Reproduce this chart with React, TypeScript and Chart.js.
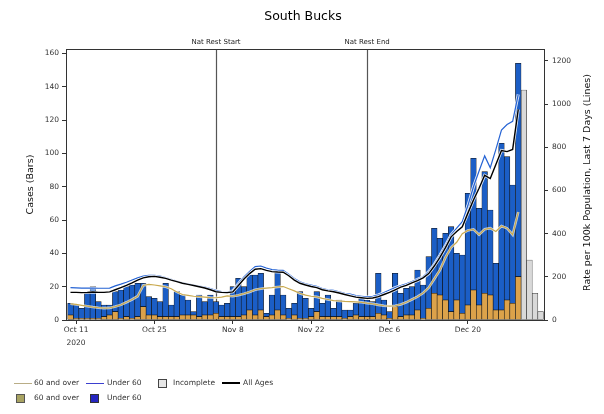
import React, { useEffect, useRef } from 'react';
import { Chart, registerables } from 'chart.js';

Chart.register(...registerables);

// ---- data (day 0 = 10 Oct 2020) ----
const chartTitle = 'South Bucks';
const tickDays = [1, 15, 29, 43, 57, 71];
const tickLabels = ['Oct 11', 'Oct 25', 'Nov 8', 'Nov 22', 'Dec 6', 'Dec 20'];
const tickYear = '2020';
const markerDays = [26, 53];
const markerLabels = ['Nat Rest Start', 'Nat Rest End'];

const over60Cases = [
  3, 1, 1, 1, 1, 1, 2, 3, 5, 1,
  2, 1, 2, 8, 3, 3, 2, 2, 2, 2,
  3, 3, 3, 2, 3, 3, 4, 2, 2, 2,
  2, 3, 6, 3, 6, 2, 3, 6, 3, 1,
  3, 1, 1, 2, 5, 2, 2, 2, 2, 1,
  2, 3, 2, 2, 2, 4, 3, 1, 8, 2,
  3, 3, 6, 1, 7, 16, 15, 12, 5, 12,
  4, 9, 18, 9, 16, 15, 6, 6, 12, 10,
  26,
];
const under60Cases = [
  7, 8, 6, 15, 19, 10, 7, 6, 12, 17,
  18, 20, 20, 14, 11, 10, 9, 20, 7, 15,
  12, 9, 2, 13, 8, 12, 7, 7, 8, 18,
  23, 17, 21, 24, 22, 2, 12, 24, 12, 6,
  7, 16, 12, 5, 12, 8, 13, 5, 10, 5,
  4, 7, 11, 10, 9, 24, 9, 4, 20, 14,
  16, 17, 24, 20, 31, 39, 34, 40, 51, 28,
  35, 67, 79, 58, 73, 51, 28, 100, 86, 71,
  128,
];
const incompleteDays = [81, 82, 83, 84];
const incompleteCases = [138, 36, 16, 5];

const allAgesRate = [
  128, 128, 127, 128, 130, 128, 128, 130, 140, 150,
  160, 172, 185, 195, 200, 202, 198, 193, 185, 178,
  170, 165, 160, 154, 148, 140, 131, 128, 127, 130,
  160, 190, 215, 235, 238, 230, 224, 222, 221, 205,
  185, 170, 162, 155, 150, 140, 135, 131, 125, 118,
  112, 106, 103, 100, 102, 108, 118, 128, 140, 152,
  160, 172, 182, 195, 215, 250, 290, 335, 385, 410,
  432, 495, 556, 610, 670, 655, 720, 785, 780, 790,
  975,
];
const under60Rate = [
  150, 149, 148, 148, 148, 147, 147, 148, 158, 166,
  175, 185, 195, 203, 207, 207, 203, 196, 188, 180,
  172, 167, 162, 157, 152, 145, 137, 132, 130, 135,
  168, 200, 225, 247, 250, 240, 233, 231, 230, 212,
  192, 177, 168, 162, 156, 146, 140, 137, 130, 124,
  120, 113, 110, 107, 110, 116, 127, 139, 150, 160,
  168, 178, 188, 200, 224, 258, 300, 345, 394, 425,
  455, 530, 617, 690, 760, 705, 790, 880, 905, 920,
  1045,
];
const over60Rate = [
  75, 72, 68, 64, 60, 57, 55, 56, 62, 70,
  82, 95, 110, 160, 165, 162, 158, 154, 145, 130,
  118, 114, 110, 108, 106, 104, 103, 106, 112, 110,
  115, 122, 130, 140, 145, 148, 150, 153, 155, 145,
  135, 123, 115, 110, 107, 100, 95, 90, 88, 86,
  85, 84, 82, 78, 75, 70, 66, 64, 66, 72,
  82, 95, 108, 125, 150, 190, 231, 290, 335, 360,
  400, 415, 420, 395, 420, 425, 410, 435, 425, 395,
  500,
];

const FONT = 'DejaVu Sans';
const C_OVER = '#dca24a';
const C_UNDER = '#1b5ec6';
const C_OVER_LINE = '#c9a94e';
const C_UNDER_LINE = '#2563d4';

const pts = (arr: number[], days?: number[]) =>
  arr.map((v, i) => ({ x: days ? days[i] : i, y: v }));

const overlay = {
  id: 'overlay',
  beforeDatasetsDraw(chart: any) {
    const { ctx, chartArea: a, scales } = chart;
    ctx.save();
    ctx.strokeStyle = '#555';
    ctx.lineWidth = 1.2;
    markerDays.forEach((d) => {
      const x = Math.round(scales.x.getPixelForValue(d)) + 0.5;
      ctx.beginPath();
      ctx.moveTo(x, a.top);
      ctx.lineTo(x, a.bottom);
      ctx.stroke();
    });
    ctx.restore();
  },
  afterDraw(chart: any) {
    const { ctx, chartArea: a, scales } = chart;
    ctx.save();
    ctx.strokeStyle = '#333';
    ctx.lineWidth = 1;
    ctx.beginPath();
    ctx.moveTo(a.left, a.top + 0.5);
    ctx.lineTo(a.right, a.top + 0.5);
    ctx.stroke();

    ctx.fillStyle = '#000';
    ctx.textAlign = 'center';
    ctx.textBaseline = 'middle';
    ctx.font = `12.5px "${FONT}"`;
    ctx.fillText(chartTitle, 303, 17);

    ctx.fillStyle = '#222';
    ctx.font = `7px "${FONT}"`;
    markerDays.forEach((d, i) => {
      const x = scales.x.getPixelForValue(d);
      ctx.fillText(markerLabels[i], x, a.top - 7);
    });

    const cy = (a.top + a.bottom) / 2;
    ctx.font = `9.5px "${FONT}"`;
    ctx.fillStyle = '#111';
    ctx.save();
    ctx.translate(31, cy);
    ctx.rotate(-Math.PI / 2);
    ctx.fillText('Cases (Bars)', 0, 0);
    ctx.restore();
    ctx.save();
    ctx.translate(588, cy - 2);
    ctx.rotate(-Math.PI / 2);
    ctx.fillText('Rate per 100k Population, Last 7 Days (Lines)', 0, 0);
    ctx.restore();
    ctx.restore();
  },
};

export default function App() {
  const ref = useRef<HTMLCanvasElement>(null);

  useEffect(() => {
    if (!ref.current) return;
    const lineBase = {
      type: 'line' as const,
      yAxisID: 'y1',
      pointRadius: 0,
      tension: 0,
      fill: false,
    };
    const barBase = {
      type: 'bar' as const,
      yAxisID: 'y',
      borderColor: '#111',
      borderWidth: 0.6,
      borderSkipped: false,
      barPercentage: 1,
      categoryPercentage: 1,
    };
    const chart = new Chart(ref.current, {
      type: 'bar',
      data: {
        datasets: [
          { ...lineBase, label: 'All Ages', data: pts(allAgesRate), borderColor: '#000', borderWidth: 1.4 },
          { ...lineBase, label: 'halo1', data: pts(allAgesRate), borderColor: 'rgba(255,255,255,0.85)', borderWidth: 3 },
          { ...lineBase, label: 'Under 60 line', data: pts(under60Rate), borderColor: C_UNDER_LINE, borderWidth: 1.2 },
          { ...lineBase, label: 'halo2', data: pts(under60Rate), borderColor: 'rgba(255,255,255,0.85)', borderWidth: 3 },
          { ...lineBase, label: '60 and over line', data: pts(over60Rate), borderColor: C_OVER_LINE, borderWidth: 1.2 },
          { ...lineBase, label: 'halo3', data: pts(over60Rate), borderColor: 'rgba(255,255,255,0.7)', borderWidth: 2.6 },
          { ...barBase, label: '60 and over', data: pts(over60Cases), backgroundColor: C_OVER, stack: 's' },
          { ...barBase, label: 'Under 60', data: pts(under60Cases), backgroundColor: C_UNDER, stack: 's' },
          { ...barBase, label: 'Incomplete', data: pts(incompleteCases, incompleteDays), backgroundColor: '#d9d9d9', borderColor: '#333', stack: 's' },
        ] as any,
      },
      options: {
        responsive: false,
        animation: false,
        devicePixelRatio: 1,
        layout: { padding: { top: 49, left: 0, right: 0, bottom: 0 } },
        font: { family: FONT } as any,
        plugins: {
          legend: { display: false },
          tooltip: { enabled: false },
          title: { display: false },
        },
        scales: {
          x: {
            type: 'linear',
            min: -0.8,
            max: 84.6,
            offset: false,
            stacked: true,
            afterBuildTicks: (scale: any) => {
              scale.ticks = tickDays.map((v) => ({ value: v }));
            },
            afterFit: (scale: any) => {
              scale.height = 94;
            },
            grid: { display: true, drawOnChartArea: false, drawTicks: true, tickLength: 4, color: '#333', offset: false },
            border: { display: true, color: '#333', width: 1 },
            ticks: {
              autoSkip: false,
              maxRotation: 0,
              padding: 0,
              color: '#333',
              font: { family: FONT, size: 7.5, lineHeight: 1.7 },
              callback: (v: any) => {
                const i = tickDays.indexOf(Number(v));
                if (i < 0) return '';
                return i === 0 ? [tickLabels[i], tickYear] : tickLabels[i];
              },
            },
          },
          y: {
            type: 'linear',
            position: 'left',
            stacked: true,
            min: 0,
            max: 162.6,
            afterFit: (scale: any) => {
              scale.width = 66;
            },
            grid: { display: true, drawOnChartArea: false, drawTicks: true, tickLength: 4, color: '#333' },
            border: { display: true, color: '#333', width: 1 },
            ticks: {
              stepSize: 20,
              includeBounds: false,
              padding: 3,
              color: '#333',
              font: { family: FONT, size: 7.5 },
              callback: (v: any) => String(v),
            },
          },
          y1: {
            type: 'linear',
            position: 'right',
            stacked: false,
            min: 0,
            max: 1255,
            afterFit: (scale: any) => {
              scale.width = 60;
            },
            grid: { display: true, drawOnChartArea: false, drawTicks: true, tickLength: 4, color: '#333' },
            border: { display: true, color: '#333', width: 1 },
            ticks: {
              stepSize: 200,
              includeBounds: false,
              padding: 4,
              color: '#333',
              font: { family: FONT, size: 7.5 },
              callback: (v: any) => String(v),
            },
          },
        },
      } as any,
      plugins: [overlay],
    });
    return () => chart.destroy();
  }, []);

  const txt: React.CSSProperties = {
    position: 'absolute',
    fontSize: 7.5,
    fontFamily: FONT,
    color: '#333',
    lineHeight: '10px',
    whiteSpace: 'nowrap',
  };
  const lineSample = (left: number, top: number, color: string, h: number): React.CSSProperties => ({
    position: 'absolute', left, top, width: 18, height: h, background: color,
  });
  const box = (left: number, top: number, color: string, border: string): React.CSSProperties => ({
    position: 'absolute', left, top, width: 7, height: 7, background: color, border: `1px solid ${border}`,
  });

  return (
    <div style={{ position: 'fixed', left: 0, top: 0, width: 604, height: 414, background: '#fff', overflow: 'hidden' }}>
      <canvas ref={ref} width={604} height={414} style={{ position: 'absolute', left: 0, top: 0, width: 604, height: 414 }} />
      <div style={lineSample(14, 383, '#b9ad86', 1)} />
      <div style={{ ...txt, left: 34, top: 378 }}>60 and over</div>
      <div style={lineSample(86, 383, '#3b3fcf', 1)} />
      <div style={{ ...txt, left: 107, top: 378 }}>Under 60</div>
      <div style={box(158, 379, '#e6e6e6', '#444')} />
      <div style={{ ...txt, left: 173, top: 378 }}>Incomplete</div>
      <div style={lineSample(222, 382, '#000', 2)} />
      <div style={{ ...txt, left: 243, top: 378 }}>All Ages</div>
      <div style={box(16, 394, '#a8a362', '#555')} />
      <div style={{ ...txt, left: 34, top: 393 }}>60 and over</div>
      <div style={box(90, 394, '#2626c0', '#333')} />
      <div style={{ ...txt, left: 107, top: 393 }}>Under 60</div>
    </div>
  );
}
